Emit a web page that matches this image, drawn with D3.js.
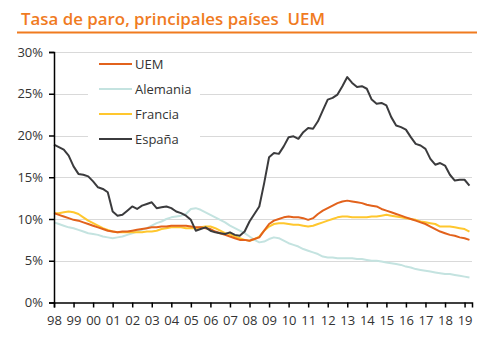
<html>
<head>
    <script src="https://d3js.org/d3.v7.min.js"></script>
</head>
<body style="margin:0; background:#fff">
    <svg id="s" width="488" height="337"></svg>
    <script>
        // quarterly data 1998Q1 .. 2019Q2 (% unemployment)
        const QUARTERS = d3.range(86).map(i => 1998 + i * 0.25)
        const SERIES_NAMES = ["UEM", "Alemania", "Francia", "España"]

        const UEM = [10.7, 10.5, 10.3, 10.1, 9.9, 9.8, 9.6, 9.4, 9.2, 9.0, 8.8, 8.6,
            8.5, 8.4, 8.5, 8.5, 8.6, 8.7, 8.8, 8.9, 9.0, 9.0, 9.1, 9.1,
            9.2, 9.2, 9.2, 9.2, 9.1, 9.0, 9.0, 8.9, 8.8, 8.5, 8.3, 8.1,
            7.9, 7.7, 7.5, 7.5, 7.4, 7.6, 7.8, 8.6, 9.4, 9.8, 10.0, 10.2,
            10.3, 10.2, 10.2, 10.1, 9.9, 10.1, 10.6, 11.0, 11.3, 11.6, 11.9, 12.1,
            12.2, 12.1, 12.0, 11.9, 11.7, 11.6, 11.5, 11.2, 11.0, 10.8, 10.6, 10.4,
            10.2, 10.0, 9.8, 9.6, 9.4, 9.1, 8.8, 8.5, 8.3, 8.1, 8.0, 7.8, 7.7, 7.5]

        const ALEMANIA = [9.6, 9.4, 9.2, 9.0, 8.9, 8.7, 8.5, 8.3, 8.2, 8.1, 7.9, 7.8,
            7.7, 7.8, 7.9, 8.1, 8.3, 8.5, 8.7, 8.9, 9.2, 9.5, 9.7, 10.0,
            10.2, 10.3, 10.4, 10.6, 11.2, 11.3, 11.1, 10.8, 10.5, 10.2, 9.9, 9.6,
            9.2, 8.9, 8.6, 8.3, 7.9, 7.5, 7.2, 7.3, 7.6, 7.8, 7.7, 7.4,
            7.1, 6.9, 6.7, 6.4, 6.2, 6.0, 5.8, 5.5, 5.4, 5.4, 5.3, 5.3,
            5.3, 5.3, 5.2, 5.2, 5.1, 5.0, 5.0, 4.9, 4.8, 4.7, 4.6, 4.5,
            4.3, 4.2, 4.0, 3.9, 3.8, 3.7, 3.6, 3.5, 3.4, 3.4, 3.3, 3.2, 3.1, 3.0]

        const FRANCIA = [10.7, 10.7, 10.8, 10.9, 10.8, 10.6, 10.2, 9.8, 9.5, 9.2, 8.9, 8.7,
            8.5, 8.4, 8.4, 8.4, 8.4, 8.4, 8.4, 8.5, 8.5, 8.6, 8.8, 8.9,
            9.0, 9.0, 9.0, 8.9, 8.9, 8.9, 9.0, 9.1, 9.1, 8.9, 8.6, 8.3,
            8.2, 7.9, 7.7, 7.5, 7.4, 7.6, 7.9, 8.6, 9.1, 9.4, 9.5, 9.5,
            9.4, 9.3, 9.3, 9.2, 9.1, 9.2, 9.4, 9.6, 9.8, 10.0, 10.2, 10.3,
            10.3, 10.2, 10.2, 10.2, 10.2, 10.3, 10.3, 10.4, 10.5, 10.4, 10.3, 10.2,
            10.1, 10.0, 9.9, 9.7, 9.6, 9.5, 9.4, 9.1, 9.1, 9.1, 9.0, 8.9, 8.8, 8.5]

        const ESPANA = [18.9, 18.6, 18.3, 17.6, 16.3, 15.4, 15.3, 15.1, 14.5, 13.8, 13.6, 13.2,
            10.9, 10.4, 10.5, 11.0, 11.5, 11.2, 11.6, 11.8, 12.0, 11.3, 11.4, 11.5,
            11.3, 10.9, 10.7, 10.4, 9.9, 8.6, 8.8, 9.0, 8.6, 8.4, 8.3, 8.2,
            8.4, 8.1, 8.0, 8.5, 9.7, 10.6, 11.5, 14.3, 17.4, 17.9, 17.8, 18.7,
            19.8, 19.9, 19.6, 20.4, 20.9, 20.8, 21.7, 23.0, 24.3, 24.5, 24.9, 25.9,
            27.0, 26.3, 25.8, 25.9, 25.6, 24.3, 23.8, 23.9, 23.6, 22.2, 21.2, 21.0,
            20.7, 19.8, 19.0, 18.8, 18.4, 17.2, 16.5, 16.7, 16.4, 15.3, 14.6, 14.7, 14.7, 14.0]

        const Y_TICKS = [0, 5, 10, 15, 20, 25, 30]
        const X_YEARS = d3.range(1998, 2020)

        const COLORS = ["#E2621C", "#C4E3E0", "#FFC72E", "#3B3B3D"]
        const DRAW_ORDER = [1, 2, 0, 3]
        const VALUES = [UEM, ALEMANIA, FRANCIA, ESPANA]

        const MARGIN = { LEFT: 54, RIGHT: 16, TOP: 52, BOTTOM: 34.5 }
        const WIDTH = 488 - MARGIN.LEFT - MARGIN.RIGHT
        const HEIGHT = 337 - MARGIN.TOP - MARGIN.BOTTOM

        const svg = d3.select("svg")
        const FONT = "'Open Sans', sans-serif"

        // Title + orange rule
        svg.append("text")
            .attr("x", 21)
            .attr("y", 25)
            .attr("font-family", FONT)
            .attr("font-size", "16px")
            .attr("font-weight", 600)
            .attr("fill", "#F07B1F")
            .attr("textLength", 304)
            .attr("lengthAdjust", "spacingAndGlyphs")
            .style("white-space", "pre")
            .text("Tasa de paro, principales países  UEM")

        svg.append("line")
            .attr("x1", 17).attr("x2", 477)
            .attr("y1", 32.5).attr("y2", 32.5)
            .attr("stroke", "#F07B1F")
            .attr("stroke-width", 2)

        const g = svg.append("g")
            .attr("transform", `translate(${MARGIN.LEFT}, ${MARGIN.TOP})`)

        const x = d3.scaleLinear()
            .domain([1998, 2019.38])
            .range([0, WIDTH])

        const y = d3.scaleLinear()
            .domain([0, 30])
            .range([HEIGHT, 0])

        // grid
        g.append("g")
            .selectAll("line")
            .data(Y_TICKS.filter(d => d > 0))
            .enter().append("line")
            .attr("x1", 0).attr("x2", WIDTH)
            .attr("y1", d => Math.round(y(d)) + 0.5)
            .attr("y2", d => Math.round(y(d)) + 0.5)
            .attr("stroke", "#d9d9d9")
            .attr("stroke-width", 1)

        // legend background hides grid
        g.append("rect")
            .attr("x", 34).attr("y", 6)
            .attr("width", 112).attr("height", 93)
            .attr("fill", "#fff")

        // lines
        const line = d3.line()
            .x((d, i) => x(QUARTERS[i]))
            .y(d => y(d))

        DRAW_ORDER.forEach(k => {
            g.append("path")
                .datum(VALUES[k])
                .attr("fill", "none")
                .attr("stroke", COLORS[k])
                .attr("stroke-width", 2)
                .attr("stroke-linejoin", "round")
                .attr("d", line)
        })

        // Y axis
        const yAxisCall = d3.axisLeft(y)
            .tickValues(Y_TICKS)
            .tickSize(5)
            .tickPadding(6)
            .tickFormat(d => d + "%")
        const yAxis = g.append("g").call(yAxisCall)
        yAxis.select(".domain").attr("stroke", "#000").attr("stroke-width", 1.5)
        yAxis.selectAll(".tick line").attr("stroke", "#000").attr("stroke-width", 1.5)
        yAxis.selectAll("text")
            .attr("font-family", FONT)
            .attr("font-size", "13px")
            .attr("fill", "#333")

        // X axis
        const xAxisCall = d3.axisBottom(x)
            .tickValues(X_YEARS)
            .tickSize(5)
            .tickPadding(8)
            .tickFormat(d => String(d).slice(2))
        const xAxis = g.append("g")
            .attr("transform", `translate(0, ${HEIGHT})`)
            .call(xAxisCall)
        xAxis.select(".domain").attr("stroke", "#000").attr("stroke-width", 1.5)
        xAxis.selectAll(".tick line").attr("stroke", "#000").attr("stroke-width", 1.5)
        xAxis.selectAll("text")
            .attr("font-family", FONT)
            .attr("font-size", "13px")
            .attr("fill", "#333")

        // legend
        const legend = g.append("g")
            .attr("transform", "translate(45, 12)")
        SERIES_NAMES.forEach((name, i) => {
            const row = legend.append("g")
                .attr("transform", `translate(0, ${i * 25})`)
            row.append("line")
                .attr("x1", 0).attr("x2", 33)
                .attr("y1", 0).attr("y2", 0)
                .attr("stroke", COLORS[i])
                .attr("stroke-width", 2)
            row.append("text")
                .attr("x", 36)
                .attr("y", 4.5)
                .attr("font-family", FONT)
                .attr("font-size", "13px")
                .attr("fill", "#333")
                .text(name)
        })
    </script>
</body>
</html>
